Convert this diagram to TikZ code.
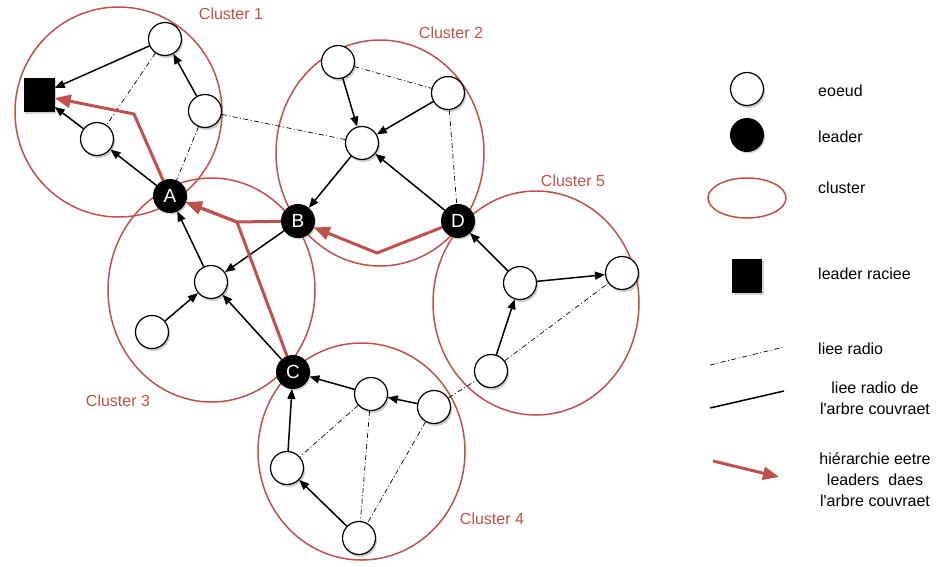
\documentclass[tikz,border=0pt]{standalone}
\usepackage{fontspec}
\setmainfont{Liberation Sans}[Ligatures=TeXOff]
\usepackage{tikz}
\usetikzlibrary{shapes, arrows.meta, positioning, shadows}
\definecolor{clred}{RGB}{192,80,77}
\tikzstyle{wnode} = [circle, draw, fill=white, line width=1.2pt, minimum size=33pt, inner sep=0pt, drop shadow={opacity=0.4, shadow xshift=1.5pt, shadow yshift=-2.5pt}]
\tikzstyle{lnode} = [circle, draw, fill=black, line width=1pt, minimum size=33pt, inner sep=0pt, text=white, font=\fontsize{19}{19}\selectfont, drop shadow={opacity=0.35, shadow xshift=1.5pt, shadow yshift=-2pt}]
\tikzstyle{rootnode} = [rectangle, fill=black, minimum width=31pt, minimum height=34pt, inner sep=0pt, drop shadow={opacity=0.35, shadow xshift=1.5pt, shadow yshift=-2pt}]
\tikzstyle{cluster} = [draw=clred, line width=1.5pt]
\tikzstyle{clabel} = [text=clred, font=\fontsize{16}{18}\selectfont]
\tikzstyle{ltext} = [font=\fontsize{16}{21}\selectfont, inner sep=0pt]
\tikzstyle{tree} = [draw, line width=1.5pt, -{Triangle[length=10pt, width=8pt]}]
\tikzstyle{radio} = [draw, line width=0.7pt, dash pattern=on 5pt off 2.5pt on 1pt off 2.5pt]
\tikzstyle{hier} = [draw=clred, line width=3pt, -{Triangle[length=16pt, width=13pt]}]

\begin{document}
\begin{tikzpicture}[x=1pt, y=-1pt]
			\useasboundingbox (0,0) rectangle (936,566);
			% clusters
			\draw [cluster] (118.5,112) ellipse [x radius=103.5pt, y radius=105pt];
			\draw [cluster] (380,153) ellipse [x radius=104pt, y radius=113pt];
			\draw [cluster] (211.5,290) ellipse [x radius=103.5pt, y radius=112pt];
			\draw [cluster] (361.5,451.5) ellipse [x radius=103.5pt, y radius=108.5pt];
			\draw [cluster] (536,303) ellipse [x radius=103pt, y radius=112pt];
			\node [clabel] (lab1) at (231,14) {Cluster 1};
			\node [clabel] (lab2) at (451,33) {Cluster 2};
			\node [clabel] (lab3) at (118,401) {Cluster 3};
			\node [clabel] (lab4) at (492,519) {Cluster 4};
			\node [clabel] (lab5) at (573,181) {Cluster 5};
			
			% nodes
			\node [rootnode] (R) at (39,95) {};
			\node [wnode] (n1a) at (165,39) {};
			\node [wnode] (n1b) at (205,111) {};
			\node [wnode] (n1c) at (97,139) {};
			\node [wnode] (n2a) at (338,62) {};
			\node [wnode] (n2b) at (448,93) {};
			\node [wnode] (n2c) at (362,143) {};
			\node [wnode] (n3a) at (211,282) {};
			\node [wnode] (n3b) at (152,332) {};
			\node [wnode] (n4a) at (371,394) {};
			\node [wnode] (n4b) at (434,407) {};
			\node [wnode] (n4c) at (287,468) {};
			\node [wnode] (n4d) at (359,538) {};
			\node [wnode] (n5a) at (520,283) {};
			\node [wnode] (n5b) at (622,273) {};
			\node [wnode] (n5c) at (491,371) {};
			\node [lnode] (A) at (170,196) {A};
			\node [lnode] (B) at (298,221) {B};
			\node [lnode] (C) at (293,372) {C};
			\node [lnode] (D) at (458,221) {D};
			
			% radio links
			\path [radio] (n1a) -- (n1c);
			\path [radio] (n1b) -- (A);
			\path [radio] (n1b) -- (n2c);
			\path [radio] (n2a) -- (n2b);
			\path [radio] (n2b) -- (D);
			\path [radio] (n4a) -- (n4c);
			\path [radio] (n4a) -- (n4d);
			\path [radio] (n4b) -- (n4d);
			\path [radio] (n4b) -- (n5c);
			\path [radio] (n5c) -- (n5b);
			
			% spanning tree
			\path [tree] (n1a) -- (R);
			\path [tree] (n1c) -- (R);
			\path [tree] (A) -- (n1c);
			\path [tree] (n1b) -- (n1a);
			\path [tree] (n2a) -- (n2c);
			\path [tree] (n2b) -- (n2c);
			\path [tree] (n2c) -- (B);
			\path [tree] (D) -- (n2c);
			\path [tree] (n3a) -- (A);
			\path [tree] (B) -- (n3a);
			\path [tree] (n3b) -- (n3a);
			\path [tree] (C) -- (n3a);
			\path [tree] (n4a) -- (C);
			\path [tree] (n4b) -- (n4a);
			\path [tree] (n4c) -- (C);
			\path [tree] (n4d) -- (n4c);
			\path [tree] (n5a) -- (D);
			\path [tree] (n5a) -- (n5b);
			\path [tree] (n5c) -- (n5a);
			
			% leader hierarchy
			\coordinate (hA) at (134,114);
			\coordinate (hB) at (237,222);
			\coordinate (hD) at (377,253);
			\path [hier] (A) -- (hA) -- (R);
			\path [hier] (B) -- (hB) -- (A);
			\path [hier] (C) -- (hB) -- (A);
			\path [hier] (D) -- (hD) -- (B);
			
			% legend
			\node [wnode] (lgw) at (747,89) {};
			\node [lnode] (lgl) at (747,135) {};
			\draw [cluster] (747,198) ellipse [x radius=39pt, y radius=20pt];
			\node [rootnode, minimum width=30pt] (lgr) at (747,276) {};
			\coordinate (lr1) at (710,365);
			\coordinate (lr2) at (784,347);
			\coordinate (lt1) at (710,408);
			\coordinate (lt2) at (784,391);
			\coordinate (lh1) at (713,461);
			\coordinate (lh2) at (779,477);
			\path [radio] (lr1) -- (lr2);
			\path [draw, line width=1.5pt] (lt1) -- (lt2);
			\path [hier] (lh1) -- (lh2);
			\node [ltext, anchor=west] (tw) at (818,91) {eoeud};
			\node [ltext, anchor=west] (tl) at (818,137) {leader};
			\node [ltext, anchor=west] (tc) at (818,188) {cluster};
			\node [ltext, anchor=west] (tr) at (818,274) {leader raciee};
			\node [ltext, anchor=west] (tradio) at (818,349) {liee radio};
			\node [ltext, align=center] (ttree) at (875,398) {liee radio de\\l'arbre couvraet};
			\node [ltext, align=center] (thier) at (875,480) {hiérarchie eetre\\leaders\ \ daes\\l'arbre couvraet};
		\end{tikzpicture}
\end{document}
